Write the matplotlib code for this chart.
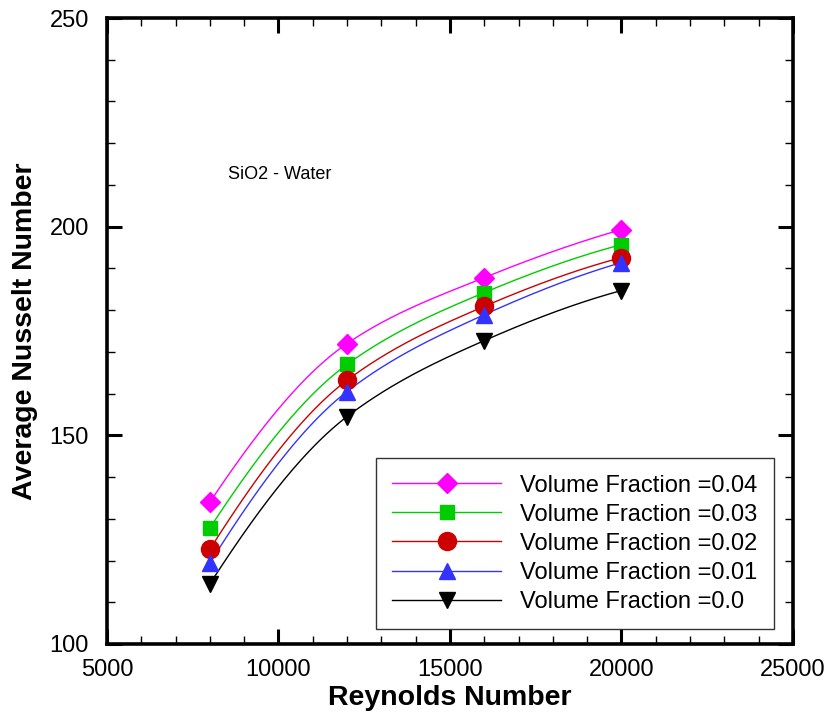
import numpy as np
import matplotlib
matplotlib.use("Agg")
import matplotlib.pyplot as plt
from matplotlib.ticker import MultipleLocator

plt.rcParams['font.family'] = ['Liberation Sans', 'DejaVu Sans']

reynolds = [8000, 12000, 16000, 20000]
nu_004 = [134.0, 172.0, 187.8, 199.3]
nu_003 = [127.8, 167.0, 184.2, 195.7]
nu_002 = [122.7, 163.2, 180.9, 192.6]
nu_001 = [119.4, 160.5, 178.9, 191.4]
nu_000 = [114.4, 154.5, 172.7, 184.7]
labels = ["Volume Fraction =0.04", "Volume Fraction =0.03", "Volume Fraction =0.02",
          "Volume Fraction =0.01", "Volume Fraction =0.0"]


def smooth_curve(x, y, n=200):
    """Shape-preserving (PCHIP) cubic Hermite curve through the points."""
    x = np.asarray(x, float); y = np.asarray(y, float)
    h = np.diff(x); d = np.diff(y) / h
    m = np.zeros_like(y)
    for k in range(1, len(x) - 1):
        if d[k - 1] * d[k] > 0:
            w1 = 2 * h[k] + h[k - 1]; w2 = h[k] + 2 * h[k - 1]
            m[k] = (w1 + w2) / (w1 / d[k - 1] + w2 / d[k])
    m[0] = ((2 * h[0] + h[1]) * d[0] - h[0] * d[1]) / (h[0] + h[1])
    if np.sign(m[0]) != np.sign(d[0]):
        m[0] = 0
    elif np.sign(d[0]) != np.sign(d[1]) and abs(m[0]) > abs(3 * d[0]):
        m[0] = 3 * d[0]
    m[-1] = ((2 * h[-1] + h[-2]) * d[-1] - h[-1] * d[-2]) / (h[-1] + h[-2])
    if np.sign(m[-1]) != np.sign(d[-1]):
        m[-1] = 0
    xs = np.linspace(x[0], x[-1], n)
    ys = np.empty_like(xs)
    for j, xv in enumerate(xs):
        i = min(np.searchsorted(x, xv, side='right') - 1, len(x) - 2)
        t = (xv - x[i]) / h[i]
        h00 = 2 * t**3 - 3 * t**2 + 1; h10 = t**3 - 2 * t**2 + t
        h01 = -2 * t**3 + 3 * t**2; h11 = t**3 - t**2
        ys[j] = h00 * y[i] + h10 * h[i] * m[i] + h01 * y[i + 1] + h11 * h[i] * m[i + 1]
    return xs, ys


fig = plt.figure(figsize=(8.3, 7.23), dpi=100)
ax = fig.add_axes([0.1289, 0.1093, 0.8265, 0.8658])

series = [nu_004, nu_003, nu_002, nu_001, nu_000]
colors = ['#ff00ff', '#00cc00', '#cc0000', '#3333ff', '#000000']
markers = ['D', 's', 'o', '^', 'v']
msizes = [10, 9.5, 13, 11.5, 11.5]

for s, c, mk, ms, lab in zip(series, colors, markers, msizes, labels):
    xs, ys = smooth_curve(reynolds, s)
    ax.plot(xs, ys, color=c, lw=1.0, zorder=2)
    ax.plot(reynolds, s, linestyle='none', marker=mk, color=c, markersize=ms, zorder=3)
    ax.plot([], [], color=c, lw=1.0, marker=mk, markersize=ms, label=lab)

ax.set_xlim(5000, 25000)
ax.set_ylim(100, 250)
ax.xaxis.set_major_locator(MultipleLocator(5000))
ax.xaxis.set_minor_locator(MultipleLocator(1000))
ax.yaxis.set_major_locator(MultipleLocator(50))
ax.yaxis.set_minor_locator(MultipleLocator(10))
ax.tick_params(which='both', direction='in', top=True, right=True, labelsize=17)
ax.tick_params(which='major', length=11, width=2.2)
ax.tick_params(which='minor', length=6, width=1)
ax.tick_params(axis='x', which='major', pad=11)
ax.tick_params(axis='y', which='major', pad=13)
for sp in ax.spines.values():
    sp.set_linewidth(2.6)

ax.set_xlabel("Reynolds Number", fontsize=20.5, fontweight='bold', labelpad=3)
ax.set_ylabel("Average Nusselt Number", fontsize=20.5, fontweight='bold', labelpad=8)

ax.text(8530, 212.4, "SiO2 - Water", fontsize=13, va='center', ha='left')

leg = ax.legend(loc='upper left', bbox_to_anchor=(0.392, 0.297), fontsize=17, frameon=True,
                fancybox=False, edgecolor='black', handlelength=4.6, handletextpad=0.8,
                labelspacing=0.3, borderpad=0.7, borderaxespad=0)
leg.get_frame().set_linewidth(1.0)

fig.savefig("out.png", dpi=100)
